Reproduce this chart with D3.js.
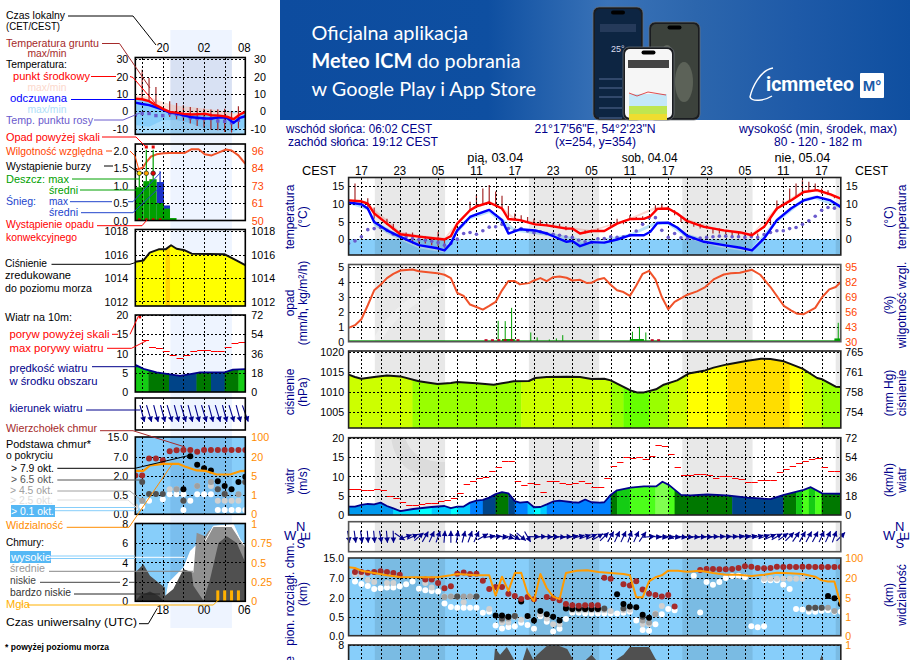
<!DOCTYPE html>
<html lang="pl"><head><meta charset="utf-8"><title>Meteogram</title>
<script src="https://cdn.jsdelivr.net/npm/d3@7"></script>
<style>html,body{margin:0;padding:0;background:#fff;overflow:hidden}svg{display:block}text{font-family:"Liberation Sans",Arial,sans-serif}</style>
</head><body><svg id="c" width="910" height="660"></svg>
<script>
// ---------- DATA : main meteogram (hours counted from Thu 15:00 CEST) ----------
const hourLabels = ["17","23","05","11","17","23","05","11","17","23","05","11","17"];
const nightSpans = [[4.1,15.1],[28.2,39.2],[52.2,63.2],[76.2,77]];
const dayNames = ["pią, 03.04","sob, 04.04","nie, 05.04"];
const dayHours = [22.95,47.1,71];

const tempHours = [0,2,3,4,6,8.1,11,13.9,15,16,17,19,20,22,24,25,26.8,29.2,31,34.1,35,36.2,38,40,42,44,46.2,47.2,48.3,50,51.4,53,55.6,58.7,61.3,63.1,65,67,69.2,71.2,73.3,75.4,77];
const tempMid = [11,10.75,10.1,7.3,4.4,1.4,0.7,0.1,-0.1,0.85,4.4,8.2,9.3,10.4,8.7,5.7,5.4,4.2,3.9,3,3,1.6,2.3,2.3,4.4,5.7,5.75,6.5,8.6,8.7,7.3,5.1,3.5,2.5,1.9,1.1,3.5,8.7,11,13.4,13.9,12.7,11.5];
const tempFelt = [10.4,9.9,8.7,4.9,2.5,0.66,-1.7,-2.6,-3.2,-1.2,2.5,6.3,7,8.3,5.4,1.6,2.8,2.45,1.6,-0.75,-0.5,-2,-0.85,-1,-0.1,1.1,1.1,2.1,4.6,4.7,3.3,0.9,-0.75,-1.7,-2.45,-3.2,0.2,5.4,8.7,11,12,11,9.15];
const dewPoint = [-1.2,-0.5,0.7,2.7,3,3.3,2.5,1.4,1.1,0.7,0.2,-0.1,-0.3,-0.6,-1,-1.7,-1.2,0,1.6,1.9,1.4,2.4,3.4,3.5,4.2,3,2.5,3,2.3,1.8,2.1,1.6,1.4,1.1,0.7,0.5,-0.3,-0.75,-0.9,0.1,0.2,0.7,0.5,0.7,1.1,2.3,4.2,6.1,6.1,2.5,0.5,1.6,0.4,0.2,0.2,0.3,0.5,0.7,0.85,0.85,0.7,0.7,0.5,0.7,0.5,1.3,1.9,2.4,2.4,3,3.3,4.2,5.2,6.5,8.2,9,8.8,9.3];
const bandHours = [0,3,4,6,8,11,15,17,19,22,24,26,31,38,44,48,50,53,58,63,67,71,73,77];
const midHigh = [11.4,10.6,8.5,5.6,2.2,1.2,0.4,4.9,8.7,10.9,9.2,6,4.3,2.6,6,9.2,9.2,5.7,2.9,1.4,9.2,13.8,14.3,11.9];
const midLow = [10.8,9.8,6.8,3.8,1,0.4,-0.3,4.1,8,10.2,8.3,5.2,3.7,2.1,5.5,8.4,8.4,4.8,2.3,0.9,8.4,13,13.5,11.2];
const feltHigh = [10.6,9,5.4,3.2,1.2,-1.2,-2.8,3.2,6.8,8.6,6,3,2,-0.5,1.5,5,5,1.5,-1.2,-2.8,6,11.5,12.4,9.6];
const feltLow = [10,8.2,3.8,1.6,-0.2,-2.6,-3.8,1.6,5.6,7.4,4.2,2.2,1,-1.5,0.7,4,4,0.2,-2.3,-3.7,4.6,10.4,11.4,8.6];
const groundHours = [1,3,4,6,7,8,9,10,11,12,13,14,15,19,20,21,22,23,24,25,26,27,28,29,30,31,32,33,34,35,37,38,39,41,42,43,44,45,46,48,49,50,51,52,53,54,55,56,57,58,59,60,61,62,63,64,66,67,68,69,70,71,72,73,74,75,76];
const groundMax = [15.8,11.6,9,5.8,4.4,2.5,1.9,1.9,1.1,0.8,0.2,2.1,-0.1,10.6,12.5,14.4,15.4,13.5,12.3,9.4,7.3,6.8,6.3,5.8,5.4,4.9,4.6,4.4,3.7,3.3,2.5,2.7,3,4.9,5.8,5.4,6.8,6.3,6.5,9.6,10.1,9.4,8.2,6.3,5.8,4.9,4.4,3.9,3,3,2.5,2,2,1.6,2,1.6,6.3,11,11,14.4,15.8,16.7,16.3,15.8,14.4,13.9,12.5];
const groundMin = [11,8.2,5.8,4,2.6,1.1,-0.5,-1.2,-1.2,-1.2,-1.7,-2,-2.4,8.2,9.4,9.7,10.1,9.2,8.2,5.7,5.6,5.4,4.9,4.4,4.2,3.9,3.7,3.5,2.5,2.4,1.6,1.8,2.1,3.7,4.4,4.2,5.7,5.7,5.6,8.3,8.7,8.5,6.8,4.9,4.2,3.5,3,3,1.6,1.6,1.4,0.9,0.9,0.7,0.7,0.7,4,8.2,9.2,11,12,13.1,13.5,13.9,12.8,12.5,11.6];

const humidHours = [0,1,2,3,4,5,6,7,8.1,10,11,13.9,15,16,17,18,19,20,21,22,23,24,25,26,26.8,28.2,29,30,31,32,33,34.1,35,36.2,37.3,38,39,40,41,42,43,44,45,46,47,48,49,50,51,53,54.5,55.8,57.1,58.7,59.8,61.2,63.1,64.4,66,68.1,69.2,70.2,71.2,73,74.1,75.2,76.2,77];
const humidity = [42.1,44.4,49.6,61.8,74.8,79.7,85.5,89.2,92.1,93,91.5,89.8,88.4,85.5,72.5,69.9,62.4,60.3,58,61.2,64.7,74.8,82.9,82.9,80,81.1,83.4,85.5,82.9,86.3,86.9,85.8,83.4,84,81.1,81.4,84.3,85.5,79.7,74.8,73.3,69.9,79.1,89.2,91.8,84.3,69,58.3,64.7,71,73.9,77.7,84.3,88.6,89.8,90.1,92.7,88.4,77.7,61.2,57.4,54.3,54,59.5,69,75.6,77.7,82];
const rainPeakHours = [23.4,24.5,25.5,28.5,29.5,31.4,32.5,33.5,44.4,45.5,46.5,76.6];
const rainPeak = [1.4,1.38,2.27,0.62,0.29,0.15,0.22,0.44,0.67,1,0.62,1.27];
const rainMeanFrom = [24,44,76];
const rainMeanTo = [26,46.2,77];
const rainMean = [0.18,0.18,0.22];
const convectiveHours = [21.5,22.5,23.5,24.5,25.5,26.5,47.5,48.5];

const pressHours = [0,1,2,4,6,8.1,11,13.9,16,17,20,22.7,24,25.8,28.2,29.2,31,34.1,36.2,38,40,41,42,44.1,45.1,46.2,48.1,49.3,51.4,53.2,55.8,57.1,59.2,62.4,64.5,66,68.1,71,73.3,74.1,76.2,77];
const pressure = [1014.33,1013.75,1013.33,1013.75,1014.1,1013.9,1012.67,1012,1012.25,1012.5,1012.17,1011.83,1012.17,1012.67,1012.75,1013.5,1013.75,1013.83,1013.75,1013.25,1013.33,1012.9,1012.1,1010.4,1009.9,1009.9,1010.67,1011.83,1012.9,1014.6,1015.4,1016.1,1016.9,1017.83,1018.33,1018.25,1017.67,1015.83,1013.5,1013.17,1011.33,1011.25];
const pressStripeHours = [0,10,27,41,43,47,50,53,59.3,69,71.2,74,77];
const pressStripeValue = [1013.5,1012,1013.5,1012,1010.5,1012,1013.5,1016,1017.5,1016,1013.5,1012];
const pressLevels = [1011,1012.9,1015,1017];
const pressColors = ["#66ff00","#99ff00","#ccff00","#ffff00","#ffdd00"];

const windHours = [0,1,2,3,4,5,6,7,8.1,10.1,13,15,16,17,18,19,20,21,22,23,24,25,26,26.8,28,29,30,31,32,33,35,36,37,38,39.3,40,41,42,44.1,46.2,48.1,49.1,50.1,52,53.5,56.1,59.2,62.4,66,68.1,71.2,72.3,74.1,77];
const windSpeed = [2.16,2.16,2.6,2.85,2.76,3.2,2.33,1.7,1,1.55,2.07,2.33,1.8,2.16,2.2,3.2,3.7,3.9,4.5,5.4,5.9,5.6,3.6,3.2,3.4,2,2.07,2.76,3.5,3.7,3.3,3.2,4,3.3,3.2,3.3,5.2,6.4,7.1,7.4,7.4,8.6,7.8,5.2,5.1,5.3,5.1,4.5,4.1,5.2,6.5,7.2,5.6,5.5];
const windGust = [6.64,6.64,6.4,6.4,6.64,6.4,5,4.3,3.3,2.7,2.7,2.8,3.2,3.2,3.7,3.97,4.3,5.8,7.9,8.9,9.5,9.9,11.5,12.3,14,14,8.7,7.8,8.2,7.9,6,8.8,8.8,8.3,7.9,8.2,8.8,8.3,7.15,7.15,9.7,12.8,13.6,14.9,14.7,14.9,14.4,15.2,18,17.8,15.7,12.3,10.3,10.3,10.5,10.5,10.3,9.7,10,10,9.7,9.2,8.6,8.6,9,9,9,11,11.8,12.8,13.4,13.9,14.4,14.7,12.3,11.3,11.3];
const windStripeHours = [0,7,8,11,13,16,17,19,21,23,25,26,28,29,30,31,41,42,44,48,50,51,60,68,70,71,72,73,74,77];
const windStripeValue = [2.5,2,1.7,1.5,2.2,1.5,2.2,3.5,4.5,5.5,4.5,3,2.2,1.5,2.2,3.5,5.5,6.5,7.5,8.5,7.5,5.5,4.5,5.5,6.5,7.5,6.5,7.5,5.5];
const windLevels = [1.6,2.1,2.4,3,4,5,6,7,8];
const windColors = ["#00ffff","#00ddff","#00ccff","#0099ee","#0080ff","#004488","#007800","#14cc14","#4cff1a","#80ff50"];
const windBearing = [170,172,172,175,175,170,175,178,125,70,65,50,30,25,20,5,0,10,15,20,25,60,80,85,100,110,120,130,150,90,88,92,92,95,88,80,75,70,65,60,45,30,25,25,20,25,35,85,95,100,105,100,98,95,95,92,92,88,85,85,85,82,80,78,75,70,65,60,55,45,35,30,28,28,25,25,20,45];

const cloudTopHours = [1,2,3,4,5,6,7,8,12,13,14,15,16,17,18,19,20,21,22,23,24,25,26,27,28,29,31,32,33,34,35,36,37,38,39,40,41,43,44,45,46,47,48,49,50,51,55,56,57,58,59,60,61,62,63,64,65,66,67,68,69,70,71,72,73,74,75,76,77];
const cloudTop = [9.4,9.4,9.1,9.4,9.7,9.4,9,8.3,6.6,6.6,5.7,4.4,4.9,8.7,9.2,8.6,8.7,6.3,4.2,4.7,4.7,3,2.4,1.9,2.2,1.87,2.2,1.95,1.8,1.5,1.4,1.37,1.4,1.4,1.4,7.1,6.8,5.4,5.1,6.2,4.1,3,2.7,2.3,2.7,1.3,10.2,10.6,10.6,10.5,10.5,10.6,11,11.7,11.5,11,10.9,11,11.5,11.4,11.5,11.4,11.5,11.5,11.4,11.4,11.4,11.4,11.4];
const base01Hours = [1,2,3,4,5,6,7,8,9,10,11,12,13,14,15,16,17,18,19,20,21,22,23,24,25,26,27,28,29,30,31,32,33,34,35,36,37,38,39,40,41,42,43,44,45,46,47,48,49,50,51,54,55,56,57,58,59,60,61,62,63,64,65,65,66,67,68,69,70,71,72,73,74,75,76,77];
const base01 = [6.1,5.5,5,4.2,4.4,4.6,4.6,4.9,5.4,6.1,4.3,3.9,3.7,3.6,1.55,1.26,1.2,1.2,1.2,1.2,0.82,0.9,0.27,0.19,0.23,0.25,0.34,0.28,0.18,0.53,0.37,0.11,0.18,0.44,0.82,0.82,0.76,0.76,0.76,0.76,0.76,0.76,0.82,0.9,0.4,0.15,0.13,0.3,0.7,1.1,1,7.9,0.84,5.97,5.3,5.97,7,7.8,7.9,7.3,0.25,0.22,0.25,6.4,6.4,6.4,5.3,4.2,1.1,1.06,0.9,0.9,0.97,1,0.9,0.9];
const base25Hours = [1,2,3,4,6,7,12,13,15,16,17,18,19,20,22,24,25,26,27,28,30,31,32,33,35,36,37,38,39,40,41,43,44,46,47,48,49,65,66,67,68,69,70,71,72,73];
const base25 = [8.5,8.2,6.5,6,5.7,5.7,5.7,4.6,2.3,2.3,2.3,1.65,2.3,2.3,1.1,0.35,0.35,0.5,0.42,0.5,0.7,0.45,0.3,0.3,1,1,1,1,1,1,0.95,1,1.05,0.3,0.3,0.75,1.35,6.8,6.8,6.8,6.8,6.8,6.8,6.8,1.1,1.2];
const base45Hours = [15,16,17,18,19,20,24,25,26,35,36,37,38,39,40,46,47,48,72,73,74,75,76];
const base45 = [2.2,2.3,2.3,2.3,2.3,2.3,0.42,0.45,0.55,1.1,1.1,1.1,1.1,1.1,1.1,0.4,0.35,0.7,1.2,1.2,1.2,1.2,0.95];
const base65Hours = [17,20,24,25,26,34,35,36,37,38,39,40,43,46,72,73,74];
const base65 = [2.3,2.3,0.45,0.5,0.55,1.2,1.15,1.15,1.15,1.15,1.15,1.15,1.15,0.5,1.2,1.2,1.2];
const base79Hours = [23,24,25,27,28,29,30,31,32,33,34,35,36,37,38,39,42,43,44,45,46,47,75,76,77];
const base79 = [0.6,0.6,0.5,1.7,0.55,0.4,0.95,0.7,0.5,0.4,1.15,1.1,1.15,1.1,1.1,1.1,2.85,1.5,1.3,1.25,0.65,0.47,2.4,1.95,1.5];
const visHours = [0,1,2,4,6,8,11,13.9,16,17,20,22,23,24,25,26,27,28,29,30,31,32,33,34,35.7,37.3,39.1,41,43,44,45,46,47,48,49,50,51.5,53,55,57,59,61,63,65,67,69,71,73,74,75,76,77];
const visibility = [62.7,60,49.3,40,30.7,24,22.7,22.7,30.7,36,30.7,30.7,6.55,25.3,10.2,40,41.3,8.4,4.3,36,12.2,5.8,4.7,40,49.3,50.7,44,40,36,30.7,5.26,5.26,17.4,22.7,30.7,49.3,49.3,45.3,49.3,40,33.3,33.3,28,33.3,41.3,38.7,36,25.3,18.2,17.4,17.4,3.46];
const lowCloudHours = [22,22.9,23.7,24.75,25.8,26.8,27.9,28.9,29.5,31,33,34.2,35.2,36,37,38,38.8,40,42.3,43,44,47,48,48.8,50,73,74,75];
const lowCloud = [0,7.7,7,7.8,6.6,5.5,7.8,6.5,7,7.9,7.9,7.6,6.4,5.5,6.4,7,6.4,5.5,6.7,7,7.8,7.8,6.6,6,5,5,7,5];

// ---------- DATA : the small key meteogram (hours counted from 16:00) ----------
const keyTopLabels = ["20","02","08"];
const keyTopHours = [4,10,16];
const keyBottomLabels = ["18","00","06"];
const keyNight = [5.1,14.05];
const keyTempHours = [0,1,2,3,4.1,5,6,7,8.2,10.2,11.1,12.2,13.3,14.3,15.2,16];
const keyMid = [7.3,6.9,5.8,3.5,1.2,-0.4,-0.8,-1.5,-1.9,-1.5,-2.3,-2.5,-3.1,-4.6,-1.9,-0.4];
const keyFelt = [5,4.2,3.5,2.3,0.8,-0.8,-1.3,-2.3,-3.5,-4.2,-4.2,-3.5,-3.8,-6.7,-3.8,-2.9];
const keyBandHours = [0,2,4,6,8.2,10.2,12.2,14.3,16];
const keyMidHigh = [9.2,8.3,5.4,3.1,2.5,1.5,0.6,-1.3,0.6];
const keyMidBase = [7.3,5.8,1.2,-0.8,-1.9,-1.5,-2.5,-4.6,-0.4];
const keyFeltLow = [-8,-9,-5.2,-5,-7,-10.4,-10.8,-12,-9];
const keyDew = [-2.3,-1.3,-1.3,-2.5,-2.5,-1.3,-1.9,-2.5,-3.8,-4.2,-4.2,-4.2,-5.6,-5.8,-6.7,-5.2];
const keyGroundHours = [1,2,3,5,6,7,8,9,10,11,12,13,14,15];
const keyGroundMax = [24,19.2,14,5.8,4.8,3.5,2.5,1.9,1.4,1,1.2,1.5,-0.4,2.9];
const keyGroundMin = [7.3,5.8,3.5,-3.3,-4.6,-5.6,-7,-8.5,-9.5,-10.6,-11,-12,-12.3,-10];
const keyHumidHours = [0,1.07,1.65,2.3,3.1,4.1,5,7.2,8.2,9.2,10.1,11.1,12.1,13.2,14,15,16];
const keyHumidity = [83.1,84.7,88.6,92.1,93.5,94.2,94.4,94.4,96.9,96.9,93.5,92.8,94.6,96.7,96,92.8,87.3];
const keyBarEdges = [0,1.17,2.04,3.1,4.17,5.05,6];
const keyRain = [0.95,1.125,1.18,0.5,0.34,0.07];
const keySnow = [0,0,0,1.1,0.43,0];
const keyRainPeakHours = [0.58,1.6,2.6];
const keyRainPeak = [1.3,2.02,2.02];
const keySnowPeakHour = [3.6];
const keySnowPeak = [1.41];
const keyOverScale = [1.6,2.6];
const keyStormColors = ["#ffe600","#ffa500","#e00000"];
const keyPressHours = [0,1.2,2.1,3.4,4.4,5.2,6,7.2,8.2,13,14.7,16];
const keyPressure = [1015.38,1015.5,1016.17,1016.45,1016.45,1016.8,1016.5,1016.37,1016.08,1016.03,1015.5,1015.1];
const keyPressStripe = [4.4,5.05];
const keyWindHours = [0,1.2,3.1,4.8,6.5,8.2,9.4,13,14.2,16];
const keyWind = [7.07,6,5.1,4.65,4.2,4.7,5.1,5.1,5.8,5.95];
const keyGust = [13.4,11.7,11.5,10.6,9.6,8.9,9.7,10.6,10.9,10.9,10.6,10.6,11.7,12.7,12.9];
const keyWindStripeHours = [0,1.9,4.9,8.9,11,13,15,16];
const keyWindStripeValue = [6.5,5.5,4.5,5.5,4.5,5.5,6.5];
const keyBearing = [165,163,165,165,163,165,163,165,165,163,165,163,165,163,165,160];
const keyTopH = [0,1,2,3,4,5,6,7,8,9,10,11,12,13,14,15,16];
const keyTopKm = [2,2,6.5,6.5,6,9.2,9.6,9.7,9.7,9,9.7,9.7,9.7,9.7,9.7,9.7,9.7];
const key79H = [7,8,9,10,11,12,13,14,15,16];
const key79 = [0.95,7.1,4.8,3.9,3.3,1.55,1.2,0.95,1.5,1.9];
const key65H = [1,2,3,4,7,12,13,16];
const key65 = [1.5,0.57,0.57,0.57,0.35,0.95,0.57,1.5];
const key45H = [1,6,7,9,11,12,13,15,16];
const key45 = [0.35,0.95,0.35,1.2,1.5,0.95,0.57,0.55,1.5];
const key25H = [0,1,5,6,9,11,12,13,14,15];
const key25 = [0.2,0.35,0.95,0.95,1.2,1.2,0.35,0.35,0.35,0.35];
const key01H = [0,1,2,4,5,6,7,7,8,9,10,11,12,13,14,15,16];
const key01 = [0.17,0.2,0.35,0.39,0.56,0.56,0.56,0.11,0.35,0.56,0.56,0.56,0.11,0.11,0.11,0.11,0.11];
const keyVisHours = [0,1.17,2.14,4.08,6.26,7.2,8.93,10.15,11.84,13.8,15.24,16];
const keyVis = [8.7,8.7,12.9,14.2,14.2,12.1,9,8.7,5.8,5.8,8.4,8.7];
const keyHighHours = [4.32,4.8,6.26,7,7.96,8.7,10.15,11.36,14.27,15.24,16];
const keyHigh = [0,1.94,2.96,3.47,5.17,5.68,6.19,7.72,7.89,6.36,5.68];
const keyMidCloudHours = [6.5,7,8.45,8.93,10.15,10.63,11.36,14,15.24,16];
const keyMidCloud = [0,3.3,2.96,7.04,6.7,7.2,7.65,7.65,6.3,5.5];
const keyLowHours = [0,1.17,2.14,3.35,4.32,4.33,5.53,7,8.2,8.45,9.9,10.87,12.1,13.3,14.76,16];
const keyLow = [2.96,3.8,2.62,1.94,1.43,0.58,1.26,3.3,2.96,1.6,0.07,2.28,6,6.7,6,3.98];
const keyVeryLowHours = [0,0.68,2.14,3.35,4.08];
const keyVeryLow = [0,0.58,1,0.58,0.07];
const keyFogHours = [12,13,14,15];
const keyFog = [0.14,0.14,0.14,0.14];

// ---------- helpers ----------
const svg = d3.select("#c");
const NAVY = "#00008b", BAND = "rgba(0,0,0,0.09)", SKY = "#87cefa";
function T(x,y,s,o={}){const t=svg.append("text").attr("x",x).attr("y",y).text(s)
  .attr("font-size",o.size||11.5).attr("fill",o.fill||"#000").attr("text-anchor",o.anchor||"start")
  .attr("font-weight",o.weight||null).attr("transform",o.rot?`rotate(${o.rot},${x},${y})`:null);
  if(o.len) t.attr("textLength",o.len).attr("lengthAdjust","spacingAndGlyphs");
  return t;}
function narrow(sel,k){sel.each(function(){this.setAttribute("textLength",this.getComputedTextLength()*k);this.setAttribute("lengthAdjust","spacingAndGlyphs");});return sel;}
const xMain = d3.scaleLinear([0,77],[348.6,840.8]);
const xKey = d3.scaleLinear([0,16],[135.3,245.3]);
const crisp = v => Math.round(v)+0.5;
function grid(g,x,y,yVals,vHours){
  const [t,b]=d3.extent(y.range()); const [l,r]=x.range();
  g.selectAll(null).data(vHours).join("line").attr("x1",d=>crisp(x(d))).attr("x2",d=>crisp(x(d))).attr("y1",t).attr("y2",b)
    .attr("stroke","#000").attr("stroke-dasharray","2,2").attr("shape-rendering","crispEdges");
  g.selectAll(null).data(yVals).join("line").attr("x1",l).attr("x2",r).attr("y1",d=>crisp(y(d))).attr("y2",d=>crisp(y(d)))
    .attr("stroke","#000").attr("stroke-dasharray","2,2").attr("shape-rendering","crispEdges");
}
function frame(g,x,top,bot,col){
  const [l,r]=x.range();
  g.append("rect").attr("x",l).attr("y",top).attr("width",r-l).attr("height",bot-top)
   .attr("fill","none").attr("stroke",col||"#222").attr("stroke-width",1.6);
}
function axisL(px,y,vals,fmt,pad){
  const a=svg.append("g").attr("transform",`translate(${px},0)`)
    .call(d3.axisLeft(y).tickValues(vals).tickFormat(fmt||(d=>d)).tickSize(0).tickPadding(pad));
  a.select(".domain").remove();
  a.selectAll("text").attr("font-size",11.5).attr("font-family",'"Liberation Sans"').attr("fill","#000");
  narrow(a.selectAll("text"),0.93);
  return a;
}
function axisR(px,y,vals,labels,pad,col){
  const a=svg.append("g").attr("transform",`translate(${px},0)`)
    .call(d3.axisRight(y).tickValues(vals).tickFormat((d,i)=>labels[i]).tickSize(0).tickPadding(pad));
  a.select(".domain").remove();
  a.selectAll("text").attr("font-size",11.5).attr("font-family",'"Liberation Sans"').attr("fill",col||"#000");
  narrow(a.selectAll("text"),0.93);
  return a;
}
const pathOf=(x,y,h,v)=>d3.line().x((d,i)=>x(h[i])).y(d=>y(d))(v);
const areaOf=(x,y,h,hi,lo)=>d3.area().x((d,i)=>x(h[i])).y1(d=>y(d)).y0((d,i)=>y(lo[i]))(hi);
function stroke(g,d,c,w,o){return g.append("path").attr("d",d).attr("fill","none").attr("stroke",c).attr("stroke-width",w).attr("stroke-linejoin","round").attr("opacity",o||1);}
function fill(g,d,c){return g.append("path").attr("d",d).attr("fill",c);}
function clip(id,x,top,bot){const [l,r]=x.range();
  svg.append("clipPath").attr("id",id).append("rect").attr("x",l).attr("y",top).attr("width",r-l).attr("height",bot-top);
  return svg.append("g").attr("clip-path",`url(#${id})`);}
function bands(g,x,spans,top,bot,c){g.selectAll(null).data(spans).join("rect").attr("x",d=>x(d[0])).attr("width",d=>x(d[1])-x(d[0])).attr("y",top).attr("height",bot-top).attr("fill",c);}
function stripes(g,x,y,hours,values,scale){
  g.selectAll(null).data(values).join("rect").attr("x",(d,i)=>x(hours[i])).attr("width",(d,i)=>x(hours[i+1])-x(hours[i])+0.4)
   .attr("y",y.range()[1]).attr("height",y.range()[0]-y.range()[1]).attr("fill",d=>scale(d));
}
function dots(g,x,y,h,v,c,r){g.selectAll(null).data(v).join("circle").attr("cx",(d,i)=>x(h[i])).attr("cy",d=>y(d)).attr("r",r||3).attr("fill",c);}
function arrows(g,x,cy,len,bearing,hourOf){
  bearing.forEach((b,i)=>{
    const a=(b-90)*Math.PI/180, cx=x(hourOf(i)), dx=Math.cos(a)*len/2, dy=Math.sin(a)*len/2;
    g.append("line").attr("x1",cx-dx).attr("y1",cy-dy).attr("x2",cx+dx).attr("y2",cy+dy).attr("stroke",NAVY).attr("stroke-width",1.1);
    const hx=cx+dx,hy=cy+dy,bx=Math.cos(a),by=Math.sin(a),s=5.2,w=2.9;
    g.append("path").attr("fill",NAVY).attr("d",`M${hx},${hy}L${hx-bx*s-by*w},${hy-by*s+bx*w}L${hx-bx*s+by*w},${hy-by*s-bx*w}Z`);
  });
}
const cloudY=(r)=>d3.scaleLinear([0,0.5,2,7,15],r);
const visY=(r)=>d3.scaleLinear([0,1,5,20,100],r);
const pressColor=d3.scaleThreshold(pressLevels,pressColors);
const windColor=d3.scaleThreshold(windLevels,windColors);

// ---------- banner ----------
const defs=svg.append("defs");
const lg=defs.append("linearGradient").attr("id","bn");
[[0,"#0d4c9f"],[0.33,"#0e4fa1"],[0.52,"#3a73b8"],[0.66,"#2c66ad"],[0.82,"#1e5aa8"],[1,"#0f4fa0"]].forEach(s=>lg.append("stop").attr("offset",s[0]).attr("stop-color",s[1]));
svg.append("rect").attr("x",280).attr("y",0).attr("width",630).attr("height",120).attr("fill","url(#bn)");
function bt(x,y,parts,len){const t=svg.append("text").attr("x",x).attr("y",y).attr("fill","#fff").attr("font-size",20);
  t.style("font-family","Lato");parts.forEach(p=>t.append("tspan").text(p[0]).attr("font-weight",p[1]||400));
  t.attr("textLength",len).attr("lengthAdjust","spacingAndGlyphs");}
bt(311.5,40,[["Oficjalna aplikacja"]],156.5);
bt(311.5,67.5,[["Meteo ICM",700],[" do pobrania"]],209);
bt(311.5,95.5,[["w Google Play i App Store"]],224.5);
function phone(x,y,w,h,scr){
  svg.append("rect").attr("x",x).attr("y",y).attr("width",w).attr("height",h+14).attr("rx",6).attr("fill","#1a1c20").attr("stroke","#6e7278").attr("stroke-width",.7);
  svg.append("rect").attr("x",x+2).attr("y",y+2).attr("width",w-4).attr("height",h+10).attr("rx",5).attr("fill",scr);
  svg.append("rect").attr("x",x+w/2-7).attr("y",y+3.5).attr("width",14).attr("height",4).attr("rx",2).attr("fill","#000");
}
phone(593,7,50,99,"#0d2542");
svg.append("rect").attr("x",600).attr("y",24).attr("width",36).attr("height",8).attr("fill","#253a5a");
svg.append("text").attr("x",611).attr("y",52).text("25°").attr("fill","#dde").attr("font-size",9);
[79,88,97,108,118].forEach(y=>svg.append("line").attr("x1",599).attr("x2",622).attr("y1",y).attr("y2",y).attr("stroke","#31486b").attr("stroke-width",2));
phone(649,22,51,84,"#3c423c");
[[660,45,14,30],[675,62,18,40],[655,85,12,26]].forEach(d=>svg.append("ellipse").attr("cx",d[0]+d[2]/2).attr("cy",Math.min(d[1]+d[3]/2,105)).attr("rx",d[2]/2).attr("ry",d[3]/2).attr("fill","#5c6258"));
phone(623,47,51,59,"#f6f6f6");
svg.append("rect").attr("x",628).attr("y",60).attr("width",41).attr("height",8).attr("fill","#444");
svg.append("rect").attr("x",629).attr("y",94).attr("width",38).attr("height",12).attr("fill","#c4e8f8");
svg.append("rect").attr("x",629).attr("y",106).attr("width",38).attr("height",14).attr("fill","#bfe650");
svg.append("rect").attr("x",629).attr("y",114).attr("width",38).attr("height",6).attr("fill","#eedd30");
svg.append("path").attr("d","M629,93 L637,96 L648,92 L666,95").attr("fill","none").attr("stroke","#d22").attr("stroke-width",.8);
T(766,91,"icmmeteo",{fill:"#fff",size:20.5,weight:700,len:88}).style("font-family","Roboto");
svg.append("path").attr("d","M773,68 C760,70 752,88 750,97 C752,102 764,101 772,96").attr("fill","none").attr("stroke","#fff").attr("stroke-width",1.4);
svg.append("rect").attr("x",860).attr("y",73).attr("width",24).attr("height",25).attr("rx",1).attr("fill","#fff");
svg.append("text").attr("x",872).attr("y",91).text("M°").attr("fill","#1a5aa8").attr("font-size",15).attr("font-weight",700).attr("text-anchor","middle");

// ---------- header ----------
const H={fill:NAVY,size:12};
T(286,133,"wschód słońca: 06:02 CEST",{...H,len:146});
T(288,146,"zachód słońca: 19:12 CEST",{...H,len:150});
T(595,133,"21°17'56\"E, 54°2'23\"N",{...H,anchor:"middle",len:121});
T(595.5,146,"(x=254,  y=354)",{...H,anchor:"middle",len:81});
T(818,133,"wysokość (min, środek, max)",{...H,anchor:"middle",len:158});
T(818,146,"80 - 120 - 182 m",{...H,anchor:"middle",len:88});
T(302,175,"CEST",{size:12,len:34});T(855,175,"CEST",{size:12,len:33});
dayNames.forEach((d,i)=>T(xMain(dayHours[i]),161.5,d,{size:12,anchor:"middle",len:56}));
hourLabels.forEach((d,i)=>T(xMain(2+6*i),175,d,{size:12,anchor:"middle",len:12.7}));
function rot2(xa,a,xb,b,y,col){T(xa,y,a,{fill:NAVY,size:12,anchor:"middle",rot:-90});T(xb,y,b,{fill:NAVY,size:12,anchor:"middle",rot:-90});}
rot2(293.5,"temperatura",307,"(°C)",217);
rot2(893,"(°C)",906,"temperatura",217);
rot2(293.5,"opad",307,"(mm/h, kg/m²/h)",303);
rot2(893,"(%)",906,"wilgotność wzgl.",305);
rot2(293.5,"ciśnienie",307,"(hPa)",392);
rot2(893,"(mm Hg)",906,"ciśnienie",393);
rot2(293.5,"wiatr",307,"(m/s)",481);
rot2(893,"(km/h)",906,"wiatr",480);
rot2(293.5,"pion. rozciągł. chm.",307,"(km)",594);
rot2(893,"(km)",906,"widzialność",595);
T(293.5,656,"zachmurzenie",{fill:NAVY,size:12,anchor:"end",rot:-90});
[[0],[599]].forEach(([o])=>{
  T(284+o,540,"W",{fill:NAVY,size:13});T(296+o,531,"N",{fill:NAVY,size:13});T(296.5+o,548,"S",{fill:NAVY,size:13});
  T(310+o,540.5,"E",{fill:NAVY,size:13,rot:-90});
});

// key column night band
svg.append("rect").attr("x",xKey(keyNight[0])).attr("width",xKey(keyNight[1])-xKey(keyNight[0])).attr("y",30).attr("height",598).attr("fill","#eef4ff");

// ---------- MAIN panels ----------
const vMain=d3.range(2,77,3);
{ // temperature
  const top=177.5,bot=255,y=d3.scaleLinear([-4.5,17.5],[bot,top]),g=clip("m1",xMain,top,bot);
  g.append("rect").attr("x",348).attr("width",493).attr("y",y(0)).attr("height",bot-y(0)).attr("fill",SKY);
  fill(g,areaOf(xMain,y,bandHours,midHigh,midLow),"#fbd9d3");
  fill(g,areaOf(xMain,y,bandHours,feltHigh,feltLow),"#b9e2fa");
  bands(g,xMain,nightSpans,top,bot,BAND);
  g.selectAll(null).data(groundMax).join("line").attr("x1",(d,i)=>xMain(groundHours[i])).attr("x2",(d,i)=>xMain(groundHours[i])).attr("y1",d=>y(d)).attr("y2",(d,i)=>y(groundMin[i])).attr("stroke","#a52a2a").attr("stroke-width",1.2);
  grid(g,xMain,y,[15,10,5,0],vMain);
  dots(g,xMain,y,d3.range(78),dewPoint,"#6a5acd",1.8);
  stroke(g,pathOf(xMain,y,tempHours,tempFelt),"#0000ff",2.4);
  stroke(g,pathOf(xMain,y,tempHours,tempMid),"#ff0000",2.4);
  frame(svg,xMain,top,bot);
  axisL(348.6,y,[15,10,5,0],null,4.5);axisR(840.8,y,[15,10,5,0],[15,10,5,0],5);
}
{ // rain + humidity
  const top=264.5,bot=341.7,y=d3.scaleLinear([0,5.18],[bot,top]),rh=d3.scaleLinear([30,97.34],[bot,top]),g=clip("m2",xMain,top,bot);
  bands(g,xMain,nightSpans,top,bot,BAND);
  g.append("path").attr("d","M376,342 C392,312 420,292 445,288").attr("fill","none").attr("stroke","#fff").attr("stroke-width",8).attr("opacity",.3);
  grid(g,xMain,y,[5,4,3,2,1],vMain);
  g.append("line").attr("x1",348.6).attr("x2",840.8).attr("y1",bot-1).attr("y2",bot-1).attr("stroke","#00a000").attr("stroke-width",.8);
  g.selectAll(null).data(rainPeak).join("line").attr("x1",(d,i)=>xMain(rainPeakHours[i])).attr("x2",(d,i)=>xMain(rainPeakHours[i])).attr("y1",d=>y(d)).attr("y2",bot).attr("stroke","#00a000").attr("stroke-width",1);
  g.selectAll(null).data(rainMean).join("rect").attr("x",(d,i)=>xMain(rainMeanFrom[i])).attr("width",(d,i)=>xMain(rainMeanTo[i])-xMain(rainMeanFrom[i])).attr("y",d=>y(d)).attr("height",d=>bot-y(d)).attr("fill","#00a000");
  g.selectAll(null).data(convectiveHours).join("rect").attr("x",d=>xMain(d)-1.5).attr("y",bot-2.5).attr("width",3).attr("height",2.5).attr("fill","#c00020");
  stroke(g,pathOf(xMain,rh,humidHours,humidity),"#f0522a",2);
  frame(svg,xMain,top,bot,"#555");
  axisL(348.6,y,[5,4,3,2,1,0],null,4.5);axisR(840.8,y,[5,4,3,2,1,0],[95,82,69,56,43,30],4.5,"#ff4500");
}
{ // pressure
  const top=351,bot=428,y=d3.scaleLinear([1001,1020.25],[bot,top]),g=clip("m3",xMain,top,bot);
  bands(g,xMain,nightSpans,top,bot,BAND);
  svg.append("clipPath").attr("id","m3c").append("path").attr("d",d3.area().x((d,i)=>xMain(pressHours[i])).y1(d=>y(d)).y0(bot)(pressure));
  stripes(svg.append("g").attr("clip-path","url(#m3c)"),xMain,y,pressStripeHours,pressStripeValue,pressColor);
  const g2=svg.append("g").attr("clip-path","url(#m3)");
  grid(g2,xMain,y,[1020,1015,1010,1005],vMain);
  stroke(g2,pathOf(xMain,y,pressHours,pressure),"#111",2);
  frame(svg,xMain,top,bot);
  axisL(348.6,y,[1020,1015,1010,1005],null,4.5);axisR(840.8,y,[1020,1015,1010,1005],[765,761,758,754],4.5);
}
{ // wind
  const top=437.7,bot=515,y=d3.scaleLinear([0,20],[bot,top]),g=clip("m4",xMain,top,bot);
  bands(g,xMain,nightSpans,top,bot,BAND);
  g.append("path").attr("d","M391,437 C395,468 415,478 445,478 L445,462 C425,462 410,455 405,437 Z").attr("fill","rgba(0,0,0,0.05)");
  svg.append("clipPath").attr("id","m4c").append("path").attr("d",d3.area().x((d,i)=>xMain(windHours[i])).y1(d=>y(d)).y0(bot)(windSpeed));
  stripes(svg.append("g").attr("clip-path","url(#m4c)"),xMain,y,windStripeHours,windStripeValue,windColor);
  const g2=svg.append("g").attr("clip-path","url(#m4)");
  grid(g2,xMain,y,[20,15,10,5],vMain);
  stroke(g2,pathOf(xMain,y,windHours,windSpeed),"#00008b",1.8);
  g2.selectAll(null).data(windGust).join("line").attr("x1",(d,i)=>xMain(i)).attr("x2",(d,i)=>xMain(i+1)).attr("y1",d=>crisp(y(d))).attr("y2",d=>crisp(y(d))).attr("stroke","#ff0000").attr("stroke-width",1);
  frame(svg,xMain,top,bot);
  axisL(348.6,y,[20,15,10,5,0],null,4.5);axisR(840.8,y,[20,15,10,5,0],[72,54,36,18,0],4.5);
}
{ // wind direction
  const top=521.7,bot=551.7,y=d3.scaleLinear([0,1],[bot,top]),g=clip("m5",xMain,top,bot);
  bands(g,xMain,nightSpans,top,bot,BAND);
  grid(g,xMain,y,[],vMain);
  arrows(svg.append("g"),xMain,536.7,12,windBearing,i=>i);
  frame(svg,xMain,top,bot,"#555");
}
{ // cloud bases and visibility
  const top=558,bot=635.7,r=[bot,616.7,597.7,578,top],y=cloudY(r),vy=visY(r),g=clip("m6",xMain,top,bot);
  g.append("rect").attr("x",348).attr("width",493).attr("y",top).attr("height",bot-top).attr("fill",SKY);
  bands(g,xMain,nightSpans,top,bot,BAND);
  grid(g,xMain,y,[7,2,0.5],vMain);
  dots(g,xMain,y,base01Hours,base01,"#fff");
  dots(g,xMain,y,base25Hours,base25,"#d0d0d0");
  dots(g,xMain,y,base45Hours,base45,"#a0a0a0");
  dots(g,xMain,y,base65Hours,base65,"#505050");
  dots(g,xMain,y,base79Hours,base79,"#000");
  dots(g,xMain,y,cloudTopHours,cloudTop,"#a52a2a");
  stroke(g,pathOf(xMain,vy,visHours,visibility),"#ff9a00",2);
  frame(svg,xMain,top,bot,"#333");
  axisL(348.6,y,[15,7,2,0.5,0],d=>d.toFixed(1),4.5);axisR(840.8,y,[15,7,2,0.5,0],[100,20,5,1,0],4.5,"#ff8c00");
}
{ // total cloud (cut by the bottom of the page)
  const top=645,bot=723,y=d3.scaleLinear([0,8],[bot,top]),g=clip("m7",xMain,top,bot);
  g.append("rect").attr("x",348).attr("width",493).attr("y",top).attr("height",bot-top).attr("fill",SKY);
  bands(g,xMain,nightSpans,top,bot,BAND);
  grid(g,xMain,y,[8],vMain);
  fill(g,d3.area().x((d,i)=>xMain(lowCloudHours[i])).y1(d=>y(d)).y0(bot)(lowCloud),"#505050");
  frame(svg,xMain,top,bot,"#222");
  axisL(348.6,y,[8],null,4.5);axisR(840.8,y,[8],[1],4.5,"#ff8c00");
}

// ---------- KEY panels ----------
const vKey=[1,4,7,10,13,16];
{ // temperature
  const top=57.5,bot=134.3,y=d3.scaleLinear([-13.3,31],[bot,top]),g=clip("k1",xKey,top,bot);
  g.append("rect").attr("x",135).attr("width",111).attr("y",y(0)).attr("height",bot-y(0)).attr("fill","#a8dcfb");
  fill(g,d3.area().x((d,i)=>xKey(keyBandHours[i])).y1(d=>y(d)).y0((d,i)=>y(keyMidBase[i]))(keyMidHigh),"#fde3da");
  fill(g,d3.area().x((d,i)=>xKey(keyBandHours[i])).y1((d,i)=>y(keyMidBase[i])).y0(d=>y(d))(keyFeltLow),SKY);
  bands(g,xKey,[keyNight],top,bot,"rgba(0,30,120,0.09)");
  g.selectAll(null).data(keyGroundMax).join("line").attr("x1",(d,i)=>xKey(keyGroundHours[i])).attr("x2",(d,i)=>xKey(keyGroundHours[i])).attr("y1",d=>y(d)).attr("y2",(d,i)=>y(keyGroundMin[i])).attr("stroke","#a52a2a").attr("stroke-width",1.2);
  grid(g,xKey,y,[30,20,10,0,-10],vKey);
  g.selectAll(null).data(keyDew).join("rect").attr("x",(d,i)=>xKey(i)-1.7).attr("y",d=>y(d)-1.7).attr("width",3.4).attr("height",3.4).attr("fill","#6a5acd");
  stroke(g,pathOf(xKey,y,keyTempHours,keyFelt),"#0000ff",2.4);
  stroke(g,pathOf(xKey,y,keyTempHours,keyMid),"#ff0000",2.4);
  frame(svg,xKey,top,bot,"#000");
  axisL(135.3,y,[30,20,10,0,-10],null,7);
  axisR(245.3,y,[30,20,10,0,-10],[30,20,10,0,-10],20.7).selectAll("text").attr("text-anchor","end");
  keyTopLabels.forEach((d,i)=>T(xKey(keyTopHours[i])-(i==2?1:0),51.7,d,{size:12,anchor:"middle",len:12.7}));
}
{ // rain
  const top=144,bot=220.5,y=d3.scaleLinear([0,2.186],[bot,top]),rh=d3.scaleLinear([50,100.3],[bot,top]),g=clip("k2",xKey,top,bot);
  g.selectAll(null).data(keySnow).join("rect").attr("x",(d,i)=>xKey(keyBarEdges[i])).attr("width",(d,i)=>xKey(keyBarEdges[i+1])-xKey(keyBarEdges[i])).attr("y",d=>y(d)).attr("height",d=>bot-y(d)).attr("fill","#1c32c8");
  g.selectAll(null).data(keyRain).join("rect").attr("x",(d,i)=>xKey(keyBarEdges[i])).attr("width",(d,i)=>xKey(keyBarEdges[i+1])-xKey(keyBarEdges[i])).attr("y",d=>y(d)).attr("height",d=>bot-y(d)).attr("fill","#00a000");
  grid(g,xKey,y,[2,1.5,1,0.5],vKey);
  svg.selectAll(null).data(keyRainPeak).join("line").attr("x1",(d,i)=>xKey(keyRainPeakHours[i])).attr("x2",(d,i)=>xKey(keyRainPeakHours[i])).attr("y1",d=>y(d)).attr("y2",(d,i)=>y(keyRain[i])).attr("stroke","#00a000").attr("stroke-width",1.2);
  svg.selectAll(null).data(keySnowPeak).join("line").attr("x1",(d,i)=>xKey(keySnowPeakHour[i])).attr("x2",(d,i)=>xKey(keySnowPeakHour[i])).attr("y1",d=>y(d)).attr("y2",d=>y(1.1)).attr("stroke","#1c32c8").attr("stroke-width",1.2);
  svg.selectAll(null).data(keyOverScale).join("rect").attr("x",d=>xKey(d)-1.5).attr("y",y(2.1)-1.5).attr("width",3).attr("height",3).attr("fill","#e00000");
  svg.selectAll(null).data(keyStormColors).join("circle").attr("cx",(d,i)=>xKey(keyRainPeakHours[i])).attr("cy",y(1.35)).attr("r",2.3).attr("fill",d=>d).attr("stroke","#222").attr("stroke-width",.7);
  svg.selectAll(null).data([...keyRainPeakHours,...keySnowPeakHour]).join("rect").attr("x",d=>xKey(d)-1.2).attr("y",bot-2.2).attr("width",2.6).attr("height",2).attr("fill","#e00000");
  stroke(g,pathOf(xKey,rh,keyHumidHours,keyHumidity),"#f0522a",2);
  frame(svg,xKey,top,bot,"#000");
  axisL(135.3,y,[2,1.5,1,0.5,0],d=>d.toFixed(1),7);axisR(245.3,y,[2,1.5,1,0.5,0],[96,84,73,61,50],6.5,"#ff4500");
}
{ // pressure
  const top=229.5,bot=306,y=d3.scaleLinear([1011.6,1018.15],[bot,top]);
  const a=d3.area().x((d,i)=>xKey(keyPressHours[i])).y1(d=>y(d)).y0(bot);
  fill(svg,a(keyPressure),"#ffff00");
  svg.append("clipPath").attr("id","k3c").append("path").attr("d",a(keyPressure));
  svg.append("g").attr("clip-path","url(#k3c)").append("rect").attr("x",xKey(keyPressStripe[0])).attr("width",xKey(keyPressStripe[1])-xKey(keyPressStripe[0])).attr("y",top).attr("height",bot-top).attr("fill","#ffd400");
  const g=clip("k3",xKey,top,bot);
  grid(g,xKey,y,[1018,1016,1014,1012],vKey);
  stroke(g,pathOf(xKey,y,keyPressHours,keyPressure),"#111",2);
  frame(svg,xKey,top,bot,"#000");
  axisL(135.3,y,[1018,1016,1014,1012],null,7);axisR(245.3,y,[1018,1016,1014,1012],[1018,1016,1014,1012],6);
}
{ // wind
  const top=315,bot=392,y=d3.scaleLinear([0,20],[bot,top]);
  svg.append("clipPath").attr("id","k4c").append("path").attr("d",d3.area().x((d,i)=>xKey(keyWindHours[i])).y1(d=>y(d)).y0(bot)(keyWind));
  stripes(svg.append("g").attr("clip-path","url(#k4c)"),xKey,y,keyWindStripeHours,keyWindStripeValue,windColor);
  const g=clip("k4",xKey,top,bot);
  grid(g,xKey,y,[20,15,10,5],vKey);
  stroke(g,pathOf(xKey,y,keyWindHours,keyWind),"#00008b",1.8);
  g.selectAll(null).data(keyGust).join("line").attr("x1",(d,i)=>xKey(i+1)).attr("x2",(d,i)=>xKey(i+2)).attr("y1",d=>crisp(y(d))).attr("y2",d=>crisp(y(d))).attr("stroke","#ff0000").attr("stroke-width",1);
  g.append("rect").attr("x",xKey(0.5)).attr("y",top+1).attr("width",2.4).attr("height",2.4).attr("fill","#e00000");
  frame(svg,xKey,top,bot,"#000");
  axisL(135.3,y,[20,15,10,5,0],null,7);axisR(245.3,y,[20,15,10,5,0],[72,54,36,18,0],6);
}
{ // wind direction
  const top=398,bot=430,y=d3.scaleLinear([0,1],[bot,top]),g=clip("k5",xKey,top,bot);
  grid(g,xKey,y,[],vKey);
  arrows(svg.append("g"),xKey,413.5,17.4,keyBearing,i=>i+1);
  frame(svg,xKey,top,bot,"#000");
}
{ // cloud bases
  const top=437,bot=514.3,r=[bot,495,475.5,456.5,top],y=cloudY(r),vy=visY(r),g=clip("k6",xKey,top,bot);
  g.append("rect").attr("x",135).attr("width",111).attr("y",top).attr("height",bot-top).attr("fill",SKY);
  bands(g,xKey,[keyNight],top,bot,"rgba(0,30,120,0.09)");
  grid(g,xKey,y,[7,2,0.5],vKey);
  dots(g,xKey,y,key01H,key01,"#fff");
  dots(g,xKey,y,key25H,key25,"#d0d0d0");
  dots(g,xKey,y,key45H,key45,"#a0a0a0");
  dots(g,xKey,y,key65H,key65,"#505050");
  dots(g,xKey,y,key79H,key79,"#000");
  dots(g,xKey,y,keyTopH,keyTopKm,"#a52a2a");
  stroke(g,pathOf(xKey,vy,keyVisHours,keyVis),"#ff9a00",2.2);
  frame(svg,xKey,top,bot,"#000");
  axisL(135.3,y,[15,7,2,0.5,0],d=>d.toFixed(1),7);axisR(245.3,y,[15,7,2,0.5,0],[100,20,5,1,0],6,"#ff8c00");
}
{ // clouds
  const top=523.5,bot=601.3,y=d3.scaleLinear([0,8],[bot,top]),fog=d3.scaleLinear([0,1],[bot,top]),g=clip("k7",xKey,top,bot);
  g.append("rect").attr("x",135).attr("width",111).attr("y",top).attr("height",bot-top).attr("fill",SKY);
  bands(g,xKey,[keyNight],top,bot,"rgba(0,30,120,0.09)");
  const A=(h,v)=>d3.area().x((d,i)=>xKey(h[i])).y1(d=>y(d)).y0(bot)(v);
  fill(g,A(keyHighHours,keyHigh),"#fff");
  fill(g,A(keyMidCloudHours,keyMidCloud),"#909090");
  stroke(g,pathOf(xKey,y,keyHighHours.slice(6),keyHigh.slice(6)),"#fff",1);
  fill(g,A(keyLowHours,keyLow),"#505050");
  fill(g,A(keyVeryLowHours,keyVeryLow),"#303030");
  grid(g,xKey,y,[6,4,2],vKey);
  g.selectAll(null).data(keyFog).join("rect").attr("x",(d,i)=>xKey(keyFogHours[i])-1.5).attr("width",3).attr("y",d=>fog(d)).attr("height",d=>bot-fog(d)).attr("fill","#ffb000");
  frame(svg,xKey,top,bot,"#000");
  axisL(135.3,y,[8,6,4,2,0],null,7);axisR(245.3,fog,[1,0.75,0.5,0.25,0],["1","0.75","0.5","0.25","0"],6,"#ff8c00");
  keyBottomLabels.forEach((d,i)=>T(xKey(keyTopHours[i])-(i==2?1:0),614,d,{size:12,anchor:"middle",len:12.7}));
}

// ---------- key texts (text, x, baseline, colour, width) ----------
const KR="#a52a2a",RD="#ff0000",BL="#0000ff",PU="#6a5acd",GR="#00a000",SN="#2244cc",OR="#ff4500",VO="#ff8c00";
const keyTexts=[
["Czas lokalny",6,18.5,"#000",59],["(CET/CEST)",6,30,"#000",54],["Temperatura gruntu",6,47,KR,93],["max/min",27.5,56.5,KR,39],
["Temperatura:",6,68,"#000",61],["punkt środkowy",13,80,RD,77],["max/min",27.5,90.5,"#fcd8cc",39],["odczuwana",10,102,BL,57],["max/min",27.5,113,"#aee0f8",39],
["Temp. punktu rosy",6,124,PU,87],["Opad powyżej skali",6,141,RD,94],["Wilgotność względna",6,155,OR,97],["Wystąpienie burzy",6,170,"#000",85],
["Deszcz: max",6,183,GR,63],["średni",49,194,GR,29],["Śnieg:",6,205,SN,30],["max",49,205,SN,19],["średni",49,216,SN,29],
["Wystąpienie opadu",6,228,RD,88],["konwekcyjnego",6,240.5,RD,71],["Ciśnienie",5,267,"#000",42],["zredukowane",5,279,"#000",66],["do poziomu morza",5,292,"#000",87],
["Wiatr na 10m:",5,321,"#000",67],["poryw powyżej skali",9.5,338,RD,100],["max porywy wiatru",9.5,352,RD,94],["prędkość wiatru",9.5,372,NAVY,78],["w środku obszaru",9.5,385,NAVY,88],
["kierunek wiatru",9.5,412,NAVY,73],["Wierzchołek chmur",6,432,KR,91],["Podstawa chmur*",6,448,"#000",85],["o pokryciu",6,459,"#000",47],
["> 7.9 okt.",11,472,"#000",43],["> 6.5 okt.",11,483,"#555",43],["> 4.5 okt.",10,493.5,"#a0a0a0",43],["> 2.5 okt.",10,503.5,"#ddd",43],
["Widzialność",6,529,VO,57],["Chmury:",6,546,"#000",38],["średnie",10,572,"#999",35],["niskie",10,584,"#444",26],["bardzo niskie",10,596,"#333",61],["Mgła",6,608,"#ffb000",24],
["Czas uniwersalny (UTC)",6,626,"#000",131]];
svg.append("rect").attr("x",11).attr("y",505).attr("width",44).attr("height",12).attr("fill","#55b8f5");
svg.append("rect").attr("x",10).attr("y",551).attr("width",41).attr("height",12).attr("fill","#55b8f5");
keyTexts.forEach(t=>T(t[1],t[2],t[0],{fill:t[3],size:11.5,len:t[4]}));
T(11,514.5,"> 0.1 okt.",{fill:"#fff",size:11.5,len:43});T(11,560.5,"wysokie",{fill:"#fff",size:11.5,len:40});
T(5,650,"* powyżej poziomu morza",{size:9,weight:700,len:104});

// annotation leader lines of the key
const leaders=[
["#000",[[68,16],[133,16],[156,45]]],[KR,[[102,43.5],[119.5,43.5],[150,88]]],[RD,[[91,76.5],[116,76.5]]],[RD,[[130,76.5],[133,77.5],[155,103]]],
[BL,[[71,99.5],[135,99.5]]],[PU,[[94,120],[123,120],[140,113]]],[RD,[[102,137],[136,137],[146,147]]],[OR,[[106,151],[112,151]]],[OR,[[130,151],[135,156],[139,170]]],
["#000",[[104,166],[113,166]]],["#000",[[129,166],[138,172]]],[GR,[[72,179],[139,179]]],[GR,[[80,190],[143,190]]],[SN,[[70,201.7],[112,201.7]]],[SN,[[128,201.7],[133,201.7],[161,172]]],
[SN,[[81,212.7],[133,212.7],[160,187]]],[RD,[[97,225.7],[142,225.7],[147,220]]],["#000",[[51.5,264.3],[130,264.3],[135.5,262.5]]],
[RD,[[112,334.3],[118,334.3]]],[RD,[[130,334.3],[138.5,316]]],[RD,[[107,348.3],[131.5,348.3],[146.5,340.7]]],[NAVY,[[92,366.7],[140,366.7]]],[NAVY,[[86,410],[140,410]]],
[KR,[[100,430.7],[133,430.7],[185,447]]],["#000",[[57.3,468.3],[135,468.3],[191,455]]],["#555",[[57.3,480],[143,480]]],["#a0a0a0",[[57.3,491],[130,491],[143,501.7]]],["#ddd",[[57.3,500],[128,500],[137,508]]],
[SKY,[[55,507.5],[135,507.5]]],[SKY,[[55,510.7],[135,510.7]]],[VO,[[66.7,527.3],[129,527.3],[172.7,463.3]]],
[SKY,[[51,556],[135,556]]],[SKY,[[51,558.5],[135,558.5]]],["#fff",[[135,557.3],[185,557.3]]],["#888",[[49,571.3],[193,571.3]]],["#444",[[40,582.3],[120,582.3]]],["#444",[[129,582.3],[135,582.3]]],["#222",[[74,594],[160,594]]],
["#ffb000",[[27,605],[213.3,605],[218.3,600]]],["#000",[[139,623.7],[148.3,623.7],[157.3,608.3]]]];
leaders.forEach(l=>svg.append("path").attr("d",d3.line()(l[1])).attr("fill","none").attr("stroke",l[0]).attr("stroke-width",1));
</script></body></html>
